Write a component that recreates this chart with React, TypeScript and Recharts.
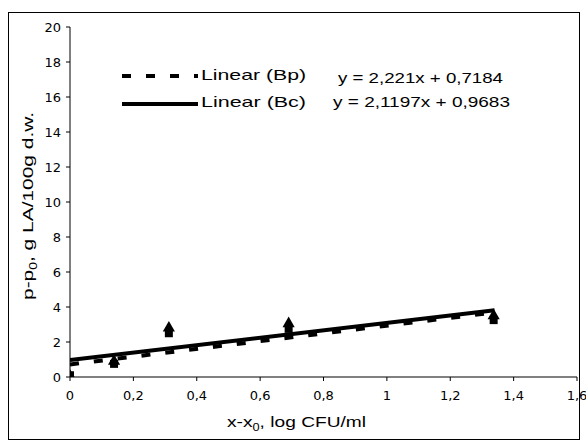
import { ComposedChart, Scatter, Line, XAxis, YAxis, Label } from 'recharts';

// measured points (x-x0, p-p0)
const bpPoints = [
  { x: 0, y: 0.1 },
  { x: 0.139, y: 0.75 },
  { x: 0.312, y: 2.5 },
  { x: 0.69, y: 2.75 },
  { x: 1.337, y: 3.25 },
];
const bcPoints = [
  { x: 0, y: 0.05 },
  { x: 0.139, y: 0.9 },
  { x: 0.312, y: 2.8 },
  { x: 0.69, y: 3.05 },
  { x: 1.337, y: 3.5 },
];

// trend line ends, from the printed equations
const bpTrend = [
  { x: 0, y: 0.72 },
  { x: 1.34, y: 3.69 },
];
const bcTrend = [
  { x: 0, y: 0.97 },
  { x: 1.34, y: 3.81 },
];

const xTicks = [0, 0.2, 0.4, 0.6, 0.8, 1, 1.2, 1.4, 1.6];
const yTicks = [0, 2, 4, 6, 8, 10, 12, 14, 16, 18, 20];

const legendItems = [
  { name: 'Linear (Bp)', dash: '9 15', equation: 'y = 2,221x + 0,7184' },
  { name: 'Linear (Bc)', dash: undefined, equation: 'y = 2,1197x + 0,9683' },
];

const font = '"Liberation Sans", Arial, sans-serif';
const tickFont = '"DejaVu Sans", sans-serif';
const fmt = (v: number) => String(v).replace('.', ',');

export default function App() {
  return (
    <div style={{ position: 'absolute', left: 0, top: 0, width: 586, height: 444, background: '#fff', fontFamily: font }}>
      <div style={{ position: 'absolute', left: 8, top: 12, width: 570, height: 426, border: '1px solid #000' }} />
      <ComposedChart
        width={586}
        height={444}
        margin={{ top: 27, right: 9, bottom: 27, left: 10 }}
        style={{ position: 'absolute', left: 0, top: 0 }}
      >
        <XAxis
          type="number"
          dataKey="x"
          domain={[0, 1.6]}
          ticks={xTicks}
          tickFormatter={fmt}
          height={40}
          stroke="#000"
          tickSize={4}
          tickMargin={10}
          tick={{ fill: '#000', fontSize: 13, fontFamily: tickFont }}
          allowDataOverflow
        >
          <Label
            content={() => (
              <text x={227} y={427} textLength={139} lengthAdjust="spacingAndGlyphs" fontSize={15} fontFamily={font} fill="#000">
                x-x<tspan fontSize={10} dy={4}>0</tspan>
                <tspan dy={-4}>, log CFU/ml</tspan>
              </text>
            )}
          />
        </XAxis>
        <YAxis
          type="number"
          dataKey="y"
          domain={[0, 20]}
          ticks={yTicks}
          width={60}
          stroke="#000"
          tickSize={4}
          tickMargin={5}
          tick={{ fill: '#000', fontSize: 13, fontFamily: tickFont }}
          allowDataOverflow
        >
          <Label
            content={() => (
              <text
                x={0}
                y={0}
                transform="translate(33,300) rotate(-90)"
                textLength={188}
                lengthAdjust="spacingAndGlyphs"
                fontSize={15}
                fontFamily={font}
                fill="#000"
              >
                p-p<tspan fontSize={10} dy={4}>0</tspan>
                <tspan dy={-4}>, g LA/100g d.w.</tspan>
              </text>
            )}
          />
        </YAxis>
        <Scatter data={bpPoints} dataKey="y" shape="square" legendType="none" fill="#000" isAnimationActive={false} />
        <Scatter data={bcPoints} dataKey="y" shape="triangle" legendType="none" fill="#000" isAnimationActive={false} />
        <Line
          data={bpTrend}
          dataKey="y"
          stroke="#000"
          strokeWidth={4}
          strokeDasharray="9 15"
          dot={false}
          activeDot={false}
          isAnimationActive={false}
        />
        <Line
          data={bcTrend}
          dataKey="y"
          stroke="#000"
          strokeWidth={4}
          dot={false}
          activeDot={false}
          isAnimationActive={false}
        />
      </ComposedChart>
      <svg width={586} height={444} style={{ position: 'absolute', left: 0, top: 0, pointerEvents: 'none' }}>
        {legendItems.map((item, i) => (
          <g key={item.name}>
            <line x1={122} y1={76 + i * 28} x2={198} y2={76 + i * 28} stroke="#000" strokeWidth={4} strokeDasharray={item.dash} />
            <text
              x={201}
              y={80 + i * 27}
              textLength={105}
              lengthAdjust="spacingAndGlyphs"
              fontSize={15}
              fontFamily={font}
              fill="#000"
            >
              {item.name}
            </text>
            <text
              x={338 - i * 5}
              y={83 + i * 24}
              textLength={165 + i * 12}
              lengthAdjust="spacingAndGlyphs"
              fontSize={15}
              fontFamily={font}
              fill="#000"
            >
              {item.equation}
            </text>
          </g>
        ))}
      </svg>
    </div>
  );
}
